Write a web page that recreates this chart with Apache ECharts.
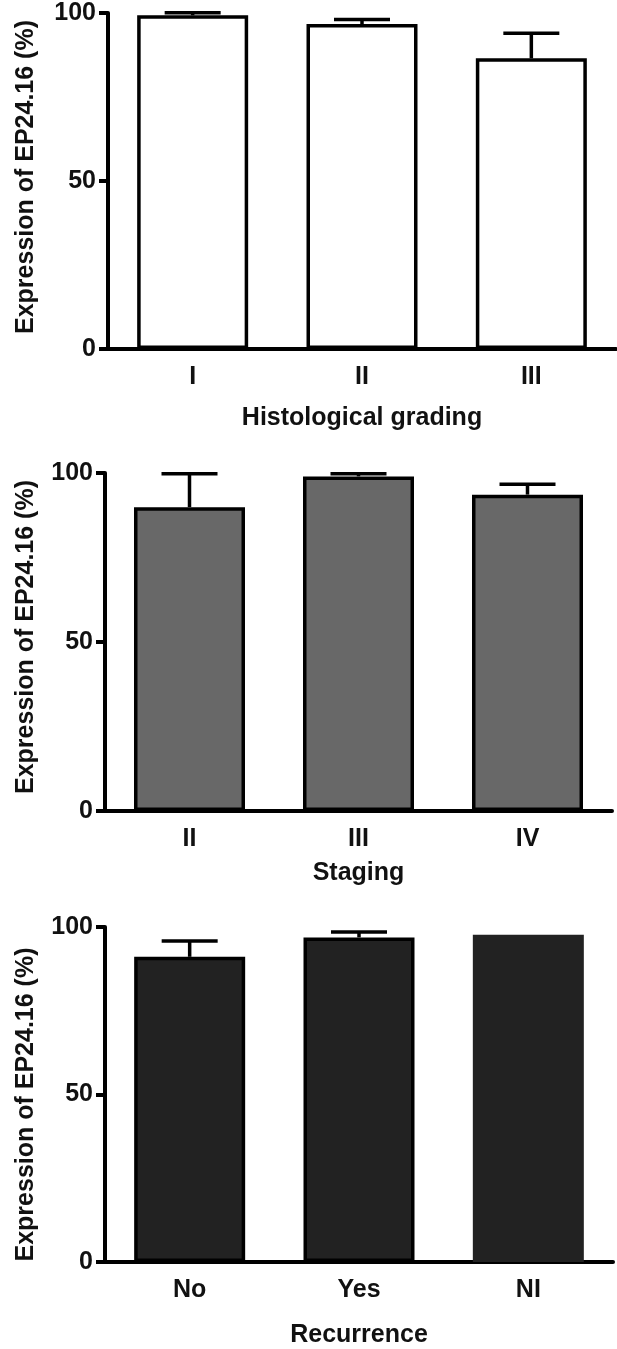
<!DOCTYPE html>
<html>
<head>
<meta charset="utf-8">
<script src="https://cdn.jsdelivr.net/npm/echarts@6/dist/echarts.min.js"></script>
<style>
  html, body { margin: 0; padding: 0; background: #fff; }
  #main { width: 617px; height: 1349px; }
</style>
</head>
<body>
<div id="main"></div>
<script>
// data
const yTicks = [0, 50, 100];

const gradeCats = ['I', 'II', 'III'];
const gradeMeans = [99.3, 96.7, 86.5];
const gradeErr = [0.8, 1.4, 7.5];

const stageCats = ['II', 'III', 'IV'];
const stageMeans = [89.9, 99.0, 93.6];
const stageErr = [9.9, 0.8, 3.1];

const recCats = ['No', 'Yes', 'NI'];
const recMeans = [91.1, 96.9, 97.7];
const recErr = [4.7, 1.6, null];

const yTitle = 'Expression of EP24.16 (%)';
const font = "'Liberation Sans', Arial, sans-serif";
const ink = '#111';

// grid boxes (px)
const grids = [
  { left: 108, right: 1, top: 13, height: 336 },
  { left: 105, right: 5, top: 473, height: 338 },
  { left: 105, right: 4, top: 927, height: 337 }
];

function xAxisOf(i, cats, name, gap) {
  return {
    type: 'category',
    gridIndex: i,
    data: cats,
    name: name,
    nameLocation: 'middle',
    nameGap: gap,
    nameTextStyle: { fontFamily: font, fontWeight: 'bold', fontSize: 25, color: ink },
    axisLine: { lineStyle: { color: '#000', width: 4 } },
    axisTick: { alignWithLabel: true, length: 9, lineStyle: { color: '#000', width: 4 } },
    axisLabel: { margin: 16, fontFamily: font, fontWeight: 'bold', fontSize: 25, color: ink },
    splitLine: { show: false }
  }
}

// pad shifts the rotated title along the axis a little
function yAxisOf(i, gap, pad) {
  return {
    type: 'value',
    gridIndex: i,
    min: yTicks[0],
    max: yTicks[yTicks.length - 1],
    interval: yTicks[1] - yTicks[0],
    name: yTitle,
    nameLocation: 'middle',
    nameGap: gap,
    nameRotate: 90,
    nameTextStyle: { fontFamily: font, fontWeight: 'bold', fontSize: 25, color: ink, padding: pad },
    axisLine: { show: true, lineStyle: { color: '#000', width: 4 } },
    axisTick: { show: true, length: 9, lineStyle: { color: '#000', width: 4 } },
    axisLabel: { margin: 12, fontFamily: font, fontWeight: 'bold', fontSize: 25, color: ink },
    splitLine: { show: false }
  }
}

function barsOf(i, means, fill, noBorder) {
  return {
    type: 'bar',
    xAxisIndex: i,
    yAxisIndex: i,
    barWidth: 111,
    data: means.map((v, k) => {
      let item = { value: v }
      if (noBorder && noBorder[k]) {
        item.itemStyle = { borderWidth: 0 }
      }
      return item
    }),
    itemStyle: { color: fill, borderColor: '#000', borderWidth: 3.5 },
    silent: true
  }
}

// error bars: upper whisker only
function errOf(i, means, errs) {
  let data = []
  means.forEach((m, k) => {
    if (errs[k] != null) data.push([k, m, m + errs[k]])
  })
  return {
    type: 'custom',
    xAxisIndex: i,
    yAxisIndex: i,
    z: 3,
    silent: true,
    data: data,
    renderItem: function (params, api) {
      let p0 = api.coord([api.value(0), api.value(1)])
      let p1 = api.coord([api.value(0), api.value(2)])
      let half = 28
      let st = { stroke: '#000', lineWidth: 3.5 }
      return {
        type: 'group',
        children: [
          { type: 'line', shape: { x1: p0[0], y1: p0[1], x2: p1[0], y2: p1[1] }, style: st },
          { type: 'line', shape: { x1: p1[0] - half, y1: p1[1], x2: p1[0] + half, y2: p1[1] }, style: st }
        ]
      }
    }
  }
}

const chart = echarts.init(document.getElementById('main'), null, { renderer: 'canvas' })
chart.setOption({
  animation: false,
  backgroundColor: '#fff',
  grid: grids,
  xAxis: [
    xAxisOf(0, gradeCats, 'Histological grading', 57),
    xAxisOf(1, stageCats, 'Staging', 50),
    xAxisOf(2, recCats, 'Recurrence', 61)
  ],
  yAxis: [
    yAxisOf(0, 69, [0, 0, 0, 8]),
    yAxisOf(1, 66, [0, 0, 0, 10]),
    yAxisOf(2, 66, [0, 20, 0, 0])
  ],
  series: [
    barsOf(0, gradeMeans, '#ffffff'),
    errOf(0, gradeMeans, gradeErr),
    barsOf(1, stageMeans, '#686868'),
    errOf(1, stageMeans, stageErr),
    barsOf(2, recMeans, '#222222', recErr.map(e => e == null)),
    errOf(2, recMeans, recErr)
  ]
})
</script>
</body>
</html>
